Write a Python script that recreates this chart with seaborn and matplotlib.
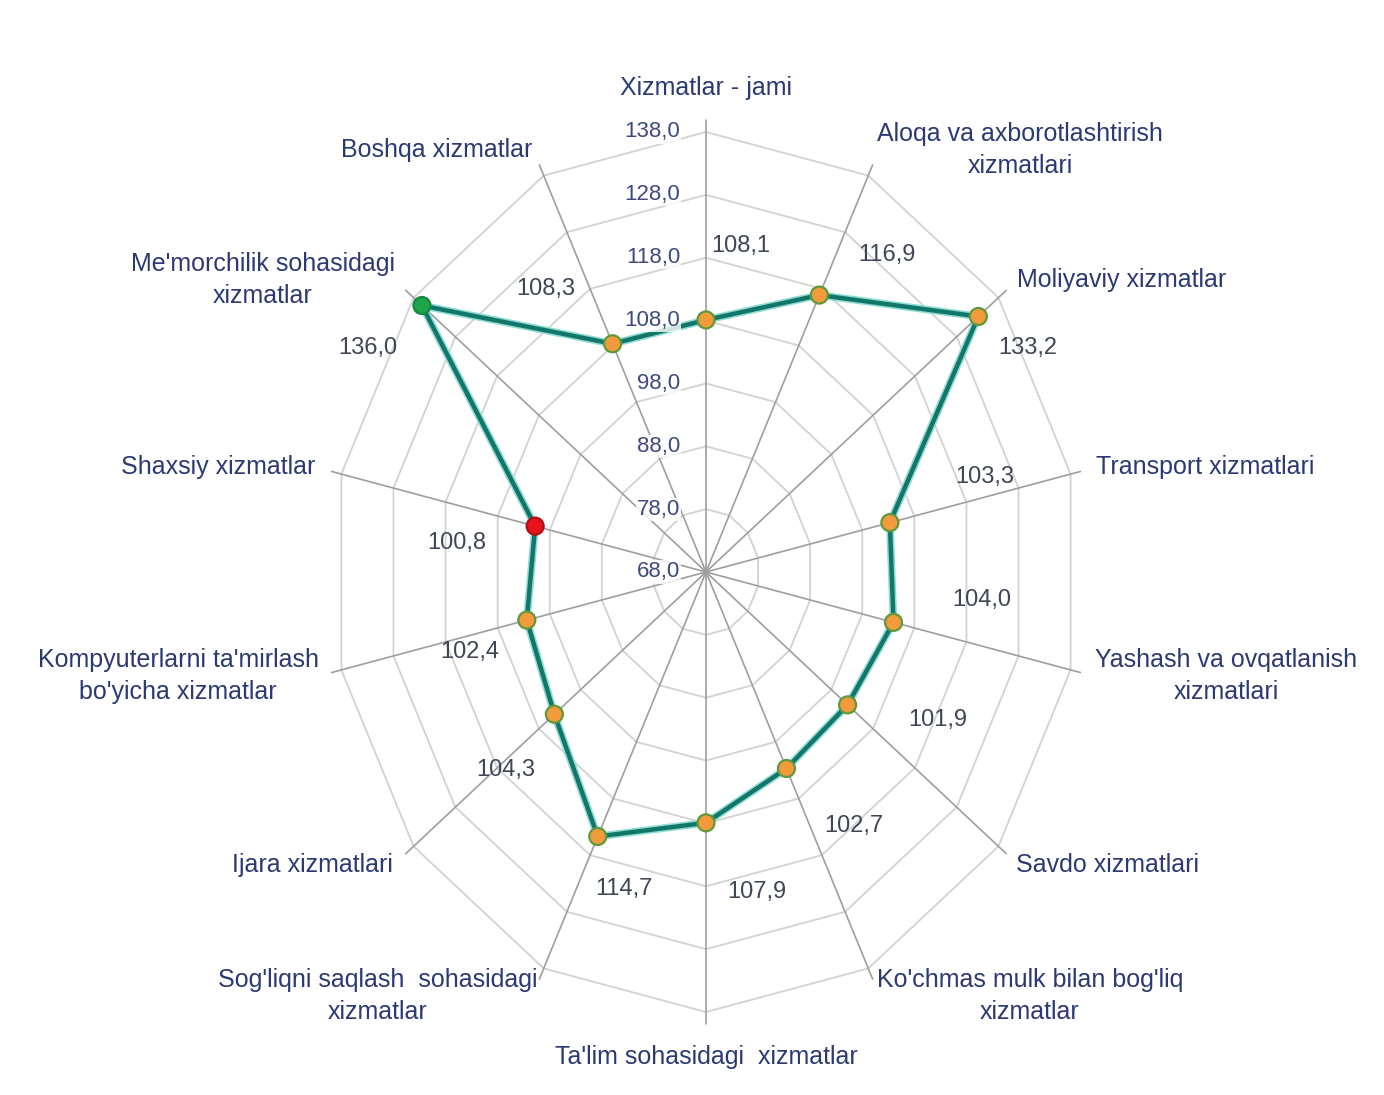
import numpy as np
import matplotlib
matplotlib.use("Agg")
import matplotlib.pyplot as plt
import seaborn as sns

# categories clockwise from the top
CATEGORIES = [
    "Xizmatlar - jami",
    "Aloqa va axborotlashtirish\nxizmatlari",
    "Moliyaviy xizmatlar",
    "Transport xizmatlari",
    "Yashash va ovqatlanish\nxizmatlari",
    "Savdo xizmatlari",
    "Ko'chmas mulk bilan bog'liq\nxizmatlar",
    "Ta'lim sohasidagi  xizmatlar",
    "Sog'liqni saqlash  sohasidagi\nxizmatlar",
    "Ijara xizmatlari",
    "Kompyuterlarni ta'mirlash\nbo'yicha xizmatlar",
    "Shaxsiy xizmatlar",
    "Me'morchilik sohasidagi\nxizmatlar",
    "Boshqa xizmatlar",
]
VALUES = [108.1, 116.9, 133.2, 103.3, 104.0, 101.9, 102.7,
          107.9, 114.7, 104.3, 102.4, 100.8, 136.0, 108.3]
RINGS = [68.0, 78.0, 88.0, 98.0, 108.0, 118.0, 128.0, 138.0]

# layout: category label centres in figure pixels, value label offsets in pixels
W, H = 1384, 1095
CAT_POS = [(706, 88), (1020, 150), (1122, 280), (1205, 467), (1226, 676),
           (1108, 865), (1030, 996), (706, 1057), (378, 996), (312, 865),
           (178, 676), (218, 467), (263, 280), (437, 150)]
VAL_OFFSET = [(35, 74), (68, 40), (49, -32), (95, 46), (88, 22), (90, -15),
              (67, -57), (51, -69), (26, -53), (-49, -56), (-57, -32),
              (-78, -17), (-54, -42), (-67, 55)]

LINE_COLOR = "#12776a"
HALO_COLOR = "#8fdcd4"
MARKER_FILL = "#f39a3d"
MARKER_EDGE = "#5e9a3c"
CAT_COLOR = "#2b3a73"
TICK_COLOR = "#3d4a7d"
VAL_COLOR = "#3f4656"

sns.set_theme(style="white")
plt.rcParams["font.family"] = ["Liberation Sans Narrow", "Liberation Sans", "DejaVu Sans"]

fig = plt.figure(figsize=(W / 100, H / 100), dpi=100)
fig.patch.set_facecolor("white")

# the source image is squeezed horizontally, so the polar box is not square
cx, cy = 706, 572
rv = 440 * 72 / 70
rh = rv * 0.85
ax = fig.add_axes([(cx - rh) / W, (H - cy - rv) / H, 2 * rh / W, 2 * rv / H],
                  projection="polar")
ax.set_aspect("auto")
ax.set_theta_zero_location("N")
ax.set_theta_direction(-1)
ax.set_ylim(68, 140)
ax.grid(False)
ax.set_xticks([])
ax.set_yticks([])
ax.spines["polar"].set_visible(False)
ax.patch.set_alpha(0)

n = len(CATEGORIES)
theta = np.linspace(0, 2 * np.pi, n, endpoint=False)
closed = np.append(theta, theta[0])

# polygon grid
for r in RINGS[1:]:
    ax.plot(closed, [r] * (n + 1), color="#d2d2d2", lw=1.3, zorder=1)
for t in theta:
    ax.plot([t, t], [68, 140], color="#9e9e9e", lw=1.2, zorder=2)

vals = np.append(VALUES, VALUES[0])
ax.plot(closed, vals, color=HALO_COLOR, lw=5.5, zorder=3, solid_joinstyle="round")
ax.plot(closed, vals, color=LINE_COLOR, lw=3.2, zorder=4, solid_joinstyle="round")

face = [MARKER_FILL] * n
edge = [MARKER_EDGE] * n
face[CATEGORIES.index("Me'morchilik sohasidagi\nxizmatlar")] = "#1fa34c"
edge[CATEGORIES.index("Me'morchilik sohasidagi\nxizmatlar")] = "#178a3e"
face[CATEGORIES.index("Shaxsiy xizmatlar")] = "#e8141c"
edge[CATEGORIES.index("Shaxsiy xizmatlar")] = "#b01015"
ax.scatter(theta, VALUES, s=150, c=face, edgecolors=edge, linewidths=1.6, zorder=5)

for r in RINGS:
    ax.annotate(f"{r:.1f}".replace(".", ","), xy=(0, r), xytext=(-26, 0),
                textcoords="offset pixels", ha="right", va="center",
                fontsize=16, color=TICK_COLOR, zorder=6,
                bbox=dict(boxstyle="square,pad=0.05", fc="white", ec="none", alpha=0.8))

for t, v, (dx, dy) in zip(theta, VALUES, VAL_OFFSET):
    ax.annotate(f"{v:.1f}".replace(".", ","), xy=(t, v), xytext=(dx, dy),
                textcoords="offset pixels", ha="center", va="center",
                fontsize=17, color=VAL_COLOR, zorder=6)

for label, (x, y) in zip(CATEGORIES, CAT_POS):
    fig.text(x / W, 1 - y / H, label, ha="center", va="center", fontsize=18,
             color=CAT_COLOR, linespacing=1.45)

fig.savefig("out.png", dpi=100, facecolor="white")
